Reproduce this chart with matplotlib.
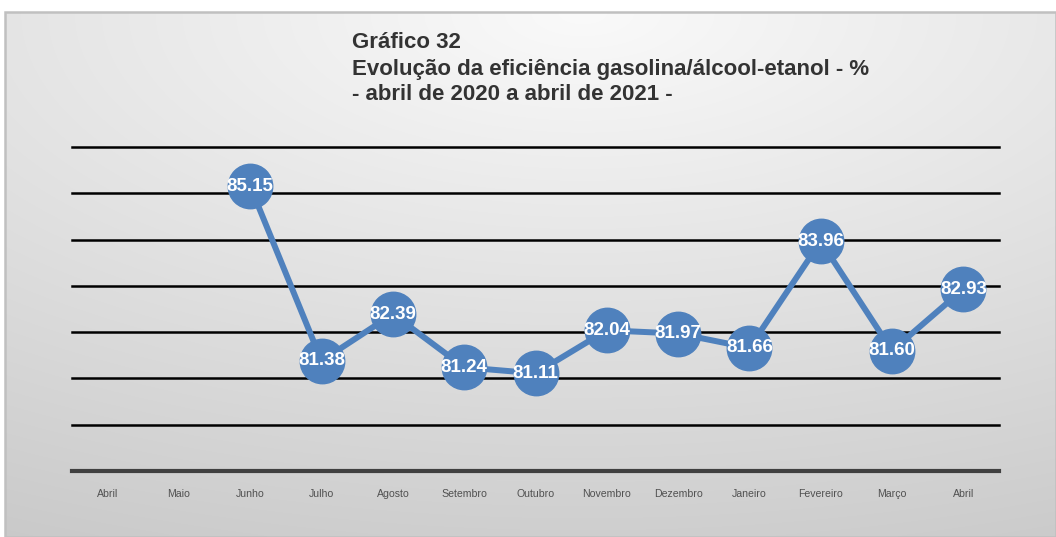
import numpy as np
import matplotlib.pyplot as plt
from matplotlib.patches import Rectangle

months = ["Abril", "Maio", "Junho", "Julho", "Agosto", "Setembro", "Outubro",
          "Novembro", "Dezembro", "Janeiro", "Fevereiro", "Março", "Abril"]
eficiencia = [np.nan, np.nan, 85.15, 81.38, 82.39, 81.24, 81.11,
              82.04, 81.97, 81.66, 83.96, 81.60, 82.93]
title_lines = ["Gráfico 32",
               "Evolução da eficiência gasolina/álcool-etanol - %",
               "- abril de 2020 a abril de 2021 -"]

W, H, DPI = 1056, 537, 100
fig = plt.figure(figsize=(W / DPI, H / DPI), dpi=DPI)
fig.patch.set_facecolor("white")

# Chart area with soft grey gradient background
x0, y0 = 5 / W, 0.0
x1, y1 = 1.0, (H - 12) / H
bg = fig.add_axes([x0, y0, x1 - x0, y1 - y0], zorder=0)
gx, gy = np.meshgrid(np.linspace(0, 1, 400), np.linspace(0, 1, 200))
d = np.sqrt(((gx - 0.55) * 0.9) ** 2 + (1 - gy) ** 2)
shade = 0.98 - 0.17 * d
bg.imshow(np.dstack([shade] * 3), extent=[0, 1, 0, 1], origin="lower",
          aspect="auto", interpolation="bicubic", vmin=0, vmax=1)
bg.set_xlim(0, 1)
bg.set_ylim(0, 1)
bg.axis("off")
fig.add_artist(Rectangle((x0, y0), x1 - x0, y1 - y0, transform=fig.transFigure,
                         fill=False, edgecolor="#c0c0c0", linewidth=1.8, zorder=1))

ax = fig.add_axes([72 / W, (H - 471) / H, 927 / W, (471 - 147) / H], zorder=2)
ax.patch.set_alpha(0)
x = np.arange(len(months))
ax.set_xlim(-0.5, len(months) - 0.5)
ax.set_ylim(79, 86)

for yv in range(80, 87):
    ax.axhline(yv, color="black", linewidth=1.8, zorder=1, clip_on=False)

ax.plot(x, eficiencia, color="#4F81BD", linewidth=4.3, marker="o",
        markersize=32, markerfacecolor="#4F81BD", markeredgecolor="#4F81BD",
        zorder=3, clip_on=False)
for xi, v in zip(x, eficiencia):
    if not np.isnan(v):
        ax.text(xi, v, f"{v:.2f}", ha="center", va="center", color="white",
                fontsize=13.5, fontweight="bold", family="Liberation Sans", zorder=4)

for s in ["top", "right", "left"]:
    ax.spines[s].set_visible(False)
ax.spines["bottom"].set_color("#404040")
ax.spines["bottom"].set_linewidth(3)
ax.set_yticks([])
ax.set_xticks(x)
ax.set_xticklabels(months, fontsize=7.6, color="#505050", family="Liberation Sans")
ax.tick_params(axis="x", length=0, pad=13)

for i, line in enumerate(title_lines):
    fig.text(352 / W, 1 - (43 + 26 * i) / H, line, ha="left", va="center",
             fontsize=16, fontweight="bold", color="#333333",
             family="Liberation Sans")

fig.savefig("out.png", dpi=DPI)
